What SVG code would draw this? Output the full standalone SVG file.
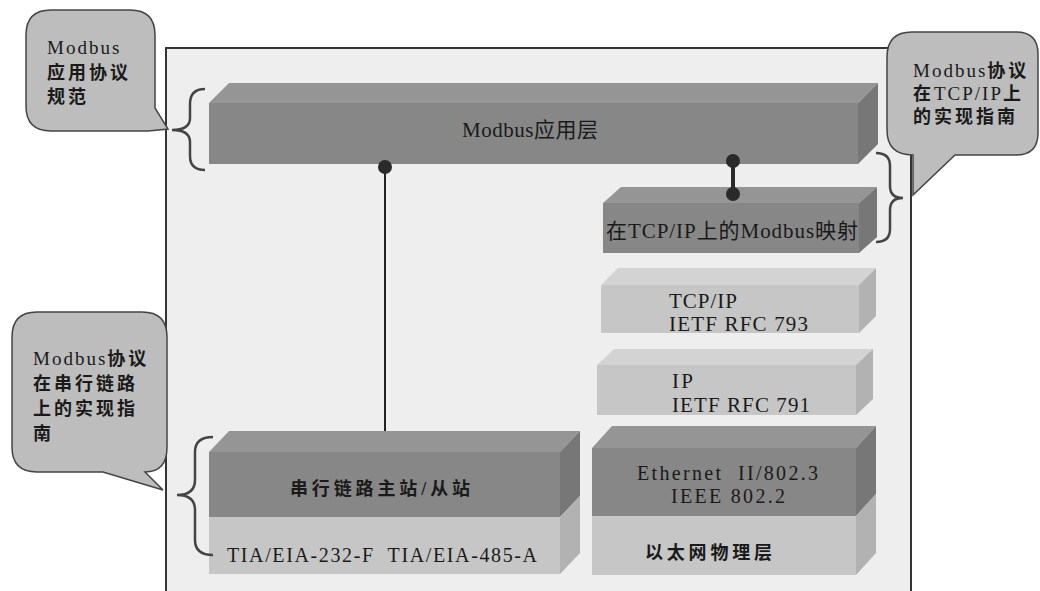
<svg xmlns="http://www.w3.org/2000/svg" width="1040" height="591" viewBox="0 0 1040 591">
<style>
.t{font-family:"Liberation Serif","Noto Sans CJK SC",serif;fill:#1a1a1a;}
.pre{white-space:pre;}
.c{font-size:18px;letter-spacing:3px;}
.m{font-size:19px;letter-spacing:2px;}
.b{font-weight:bold;}
.bub{fill:#bdbdbd;stroke:#444;stroke-width:1.5;}
.br{fill:none;stroke:#444;stroke-width:2.5;}
.dF{fill:#878787;}.dT{fill:#959595;}.dS{fill:#777;}
.lF{fill:#c6c6c6;}.lT{fill:#d3d3d3;}.lS{fill:#b2b2b2;}
</style>
<rect x="0" y="0" width="1040" height="591" fill="#fff"/>
<rect id="frame" x="166" y="48" width="745" height="560" fill="#eeeeee" stroke="#333" stroke-width="2"/>

<g id="app-layer">
<polygon class="dT" points="209,103 229,83 878,83 858,103"/>
<polygon class="dS" points="858,103 878,83 878,144 858,164"/>
<rect class="dF" x="209" y="103" width="649" height="61"/>
<text class="t" x="462" y="137" font-size="21" textLength="136" lengthAdjust="spacing">Modbus应用层</text>
</g>

<g id="mapping">
<polygon class="dT" points="603,203 621,187 877,187 859,203"/>
<polygon class="dS" points="859,203 877,187 877,237 859,253"/>
<rect class="dF" x="603" y="203" width="256" height="50"/>
<text class="t" x="606" y="238" font-size="21" textLength="252" lengthAdjust="spacing">在TCP/IP上的Modbus映射</text>
</g>

<g id="tcp">
<polygon class="lT" points="601,285 618,268 876,268 859,285"/>
<polygon class="lS" points="859,285 876,268 876,316 859,333"/>
<rect class="lF" x="601" y="285" width="258" height="48"/>
<text class="t" x="669" y="308" font-size="21" textLength="68" lengthAdjust="spacing">TCP/IP</text>
<text class="t" x="669" y="331" font-size="21" textLength="139" lengthAdjust="spacing">IETF RFC 793</text>
</g>

<g id="ip">
<polygon class="lT" points="597,365 614,349 873,349 856,365"/>
<polygon class="lS" points="856,365 873,349 873,399 856,415"/>
<rect class="lF" x="597" y="365" width="259" height="50"/>
<text class="t" x="672" y="388" font-size="21" textLength="21" lengthAdjust="spacing">IP</text>
<text class="t" x="672" y="412" font-size="21" textLength="138" lengthAdjust="spacing">IETF RFC 791</text>
</g>

<g id="ethernet">
<polygon class="dT" points="592,448 612,426 876,426 856,448"/>
<polygon class="dS" points="856,448 876,426 876,494 856,516"/>
<polygon class="lS" points="856,516 876,494 876,553 856,575"/>
<rect class="dF" x="592" y="448" width="264" height="68"/>
<rect class="lF" x="592" y="516" width="264" height="59"/>
<text class="t pre" x="637" y="480" font-size="20" textLength="181" lengthAdjust="spacing">Ethernet  II/802.3</text>
<text class="t" x="671" y="503" font-size="20" textLength="114" lengthAdjust="spacing">IEEE 802.2</text>
<text class="t b" x="645" y="559" font-size="18" textLength="127" lengthAdjust="spacing">以太网物理层</text>
</g>

<g id="serial">
<polygon class="dT" points="209,452 229,431 580,431 560,452"/>
<polygon class="dS" points="560,452 580,431 580,496 560,517"/>
<polygon class="lS" points="560,517 580,496 580,553 560,574"/>
<rect class="dF" x="209" y="452" width="351" height="65"/>
<rect class="lF" x="209" y="517" width="351" height="57"/>
<text class="t b" x="290" y="495" font-size="18" textLength="180" lengthAdjust="spacing">串行链路主站/从站</text>
<text class="t pre" x="227" y="562" font-size="20" textLength="310" lengthAdjust="spacing">TIA/EIA-232-F  TIA/EIA-485-A</text>
</g>

<g id="connectors">
<line x1="385" y1="167" x2="385" y2="431" stroke="#222" stroke-width="2"/>
<circle cx="385" cy="167" r="7" fill="#2a2a2a"/>
<line x1="733" y1="161" x2="733" y2="194" stroke="#2a2a2a" stroke-width="4"/>
<circle cx="733" cy="161" r="7" fill="#2a2a2a"/>
<circle cx="733" cy="194" r="7" fill="#2a2a2a"/>
<path class="br" d="M205 89 Q190 89 190 104 V118 Q190 130 172 130 Q190 130 190 142 V156 Q190 170 205 170"/>
<path class="br" d="M876 153 Q890 153 890 166 V186 Q890 198 903 198 Q890 198 890 210 V229 Q890 242 876 242"/>
<path class="br" d="M213 437 Q195 437 195 452 V480 Q195 495 177 495 Q195 495 195 510 V540 Q195 555 213 555"/>
</g>

<g id="callout-app">
<path class="bub" d="M51 10 H130 Q155 10 155 35 V108 L168 129 L148 131 H51 Q26 131 26 106 V35 Q26 10 51 10 Z"/>
<text class="t m" x="47" y="54">Modbus</text>
<text class="t c b" x="47" y="79">应用协议</text>
<text class="t c b" x="47" y="103">规范</text>
</g>

<g id="callout-tcp">
<path class="bub" d="M912 32 H1016 Q1038 32 1038 54 V133 Q1038 155 1016 155 H955 L913 195 V155 Q887 155 887 130 V57 Q887 32 912 32 Z"/>
<text class="t c" x="913" y="77"><tspan class="m">Modbus</tspan><tspan class="b">协议</tspan></text>
<text class="t c" x="913" y="100"><tspan class="b">在</tspan><tspan class="m">TCP/IP</tspan><tspan class="b">上</tspan></text>
<text class="t c b" x="913" y="123">的实现指南</text>
</g>

<g id="callout-serial">
<path class="bub" d="M37 312 H142 Q167 312 167 337 V447 Q167 472 145 472 L163 490 L103 472 H37 Q12 472 12 447 V337 Q12 312 37 312 Z"/>
<text class="t c" x="33" y="365"><tspan class="m">Modbus</tspan><tspan class="b">协议</tspan></text>
<text class="t c b" x="33" y="390">在串行链路</text>
<text class="t c b" x="33" y="415">上的实现指</text>
<text class="t c b" x="33" y="440">南</text>
</g>
</svg>
